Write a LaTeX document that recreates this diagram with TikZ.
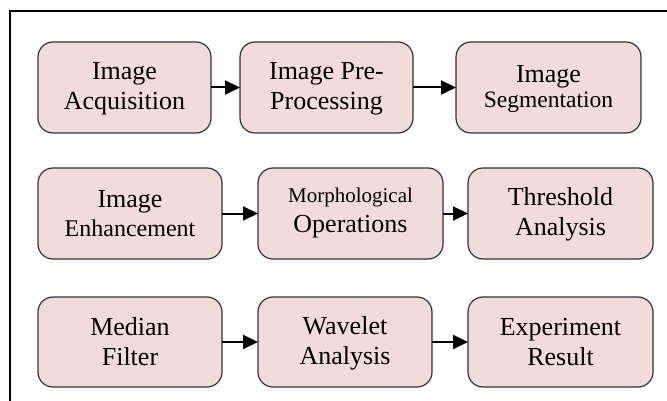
\documentclass[tikz,border=0pt]{standalone}
\usepackage{fontspec}
\setmainfont{Liberation Serif}
\usetikzlibrary{arrows.meta}
\definecolor{boxfill}{HTML}{F2DCDB}
\definecolor{boxline}{HTML}{333333}
\newcommand\lnstrut{\rule[-3pt]{0pt}{23pt}}
\newcommand\lnstrutdeep{\rule[-13pt]{0pt}{33pt}}
\begin{document}
\begin{tikzpicture}[x=1pt,y=-1pt,
  stepbox/.style={draw=boxline, line width=1.2pt, fill=boxfill, rounded corners=15pt,
    inner sep=0pt, outer sep=0pt, align=center, font=\fontsize{26}{30}\selectfont},
  flow/.style={line width=2pt, -{Triangle[length=15pt,width=14pt]}}]
\useasboundingbox (0,0) rectangle (667,401);
\draw[line width=2pt] (10,401) -- (10,11) -- (667,11);
\node[stepbox, minimum width=173pt, minimum height=91pt] (b1) at (124.5,87.5) {\lnstrut Image\\\lnstrut Acquisition};
\node[stepbox, minimum width=173pt, minimum height=91pt] (b2) at (326.5,87.5) {\lnstrut Image Pre-\\\lnstrut Processing};
\node[stepbox, minimum width=185pt, minimum height=91pt] (b3) at (548.5,87.5) {\lnstrut Image\\[-5pt]\lnstrut{\fontsize{23.5}{30}\selectfont Segmentation}};
\node[stepbox, minimum width=184pt, minimum height=91pt] (b4) at (130,213.5) {\lnstrut Image\\[-1pt]\lnstrut{\fontsize{24}{30}\selectfont Enhancement}};
\node[stepbox, minimum width=185pt, minimum height=91pt] (b5) at (350.5,213.5) {\lnstrut{\fontsize{21}{30}\selectfont Morphological}\\\lnstrutdeep Operations};
\node[stepbox, minimum width=185pt, minimum height=91pt] (b6) at (560.5,213.5) {\lnstrut Threshold\\\lnstrut Analysis};
\node[stepbox, minimum width=184pt, minimum height=90pt] (b7) at (130,342) {\lnstrut Median\\\lnstrut Filter};
\node[stepbox, minimum width=174pt, minimum height=90pt] (b8) at (345,342) {\lnstrut Wavelet\\\lnstrut Analysis};
\node[stepbox, minimum width=185pt, minimum height=90pt] (b9) at (560.5,342) {\lnstrut Experiment\\\lnstrut Result};
\draw[flow] (b1) -- (b2);
\draw[flow] (b2) -- (b3);
\draw[flow] (b4) -- (b5);
\draw[flow] (b5) -- (b6);
\draw[flow] (b7) -- (b8);
\draw[flow] (b8) -- (b9);
\end{tikzpicture}
\end{document}
